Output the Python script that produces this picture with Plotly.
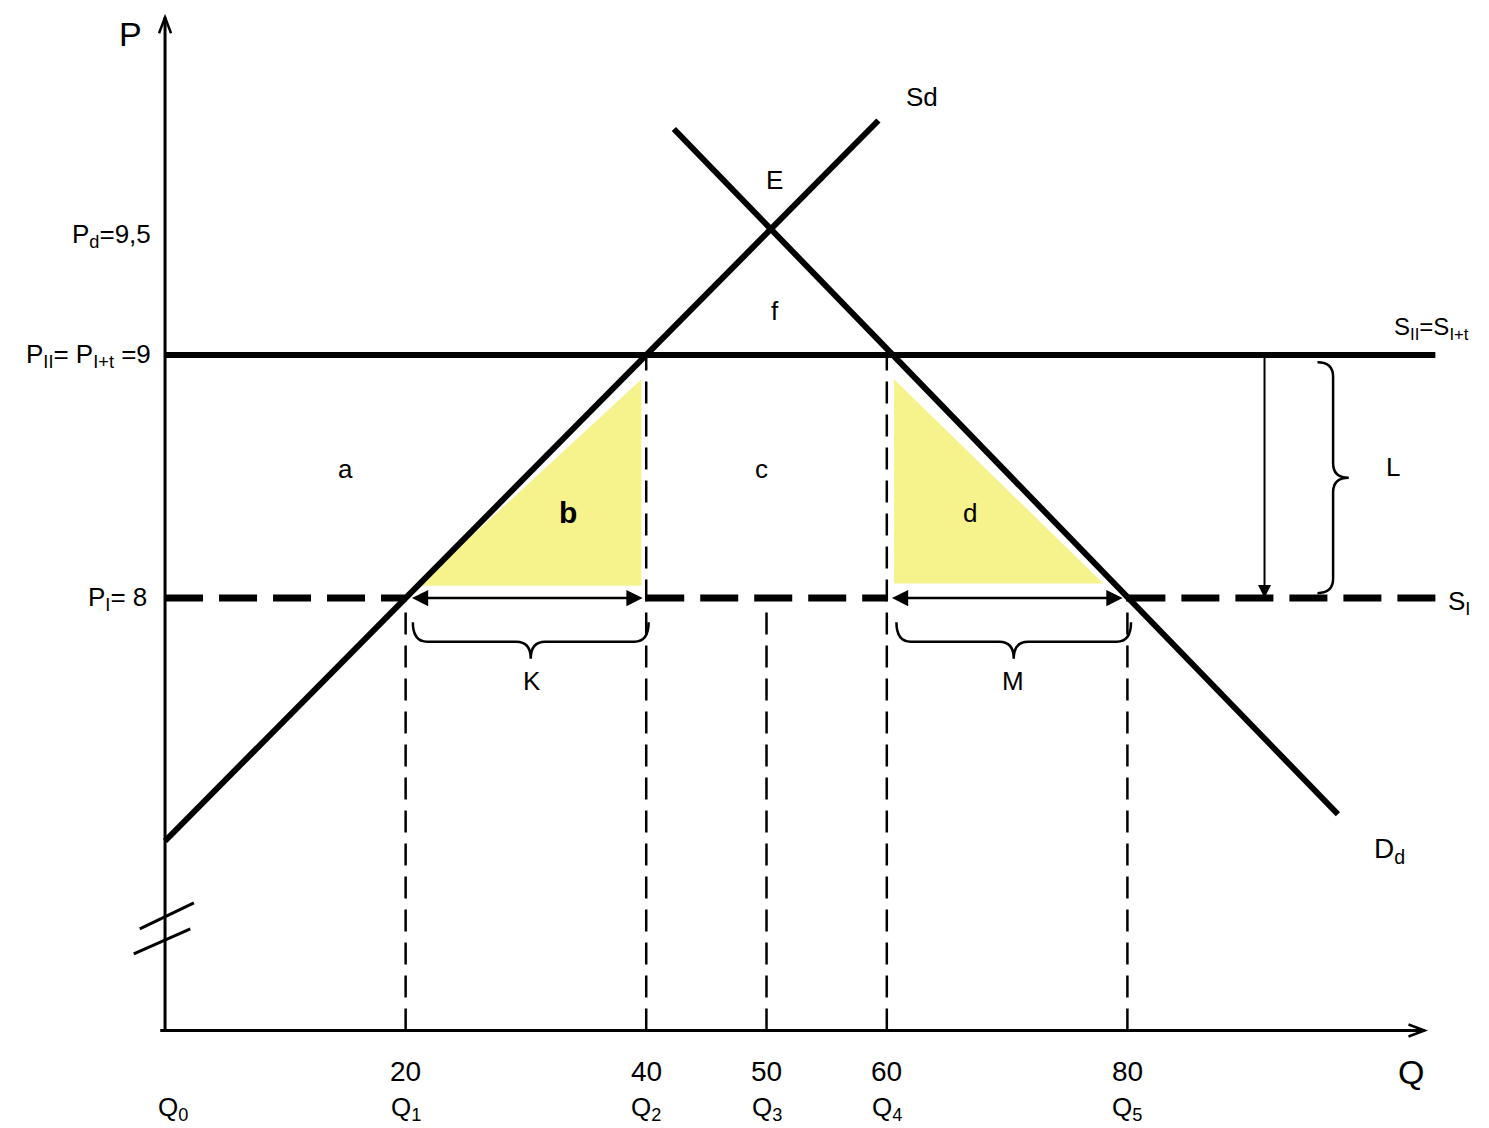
import plotly.graph_objects as go

# --- values ---
q_marks = [20, 40, 50, 60, 80]
q_tick_text = ["20", "40", "50", "60", "80"]
q_names = ["Q<sub>1</sub>", "Q<sub>2</sub>", "Q<sub>3</sub>", "Q<sub>4</sub>", "Q<sub>5</sub>"]

p_world = 8.0        # P_I
p_tariff = 9.0       # P_II = P_I+t
p_domestic = 9.5     # P_d
p_axis = 6.22        # where the (broken) price axis meets Q

supply_q = [0.0, 59.3]
supply_p = [7.0, 9.965]
demand_q = [42.3, 97.5]
demand_p = [9.93, 7.11]

tri_b_q = [21.0, 39.6, 39.6]
tri_b_p = [8.05, 8.05, 8.9]
tri_d_q = [60.6, 60.6, 78.0]
tri_d_p = [8.9, 8.06, 8.06]

# vertical guide lines: (Q, top P)
guide_q = [20, 40, 50, 60, 80]
guide_top = [8.0, 9.0, 7.95, 9.0, 8.0]

q_end = 104.7
p_top = 10.39
line_end = 105.6
dashed_end = 106.0
shift_q = 91.4

BLACK = "#000000"
YELLOW = "#f6f38c"
FONT = "Liberation Sans, Arial, sans-serif"

fig = go.Figure()

# shaded triangles b and d
for tq, tp in [(tri_b_q, tri_b_p), (tri_d_q, tri_d_p)]:
    fig.add_trace(go.Scatter(x=tq, y=tp, fill="toself", fillcolor=YELLOW,
                             mode="none", hoverinfo="skip"))

# supply and demand
fig.add_trace(go.Scatter(x=supply_q, y=supply_p, mode="lines",
                         line=dict(color=BLACK, width=6)))
fig.add_trace(go.Scatter(x=demand_q, y=demand_p, mode="lines",
                         line=dict(color=BLACK, width=6)))

# world price with tariff (solid)
fig.add_trace(go.Scatter(x=[0, line_end], y=[p_tariff, p_tariff], mode="lines",
                         line=dict(color=BLACK, width=6)))

# world price without tariff (thick dashed, broken where the arrows are)
for q0, q1 in [(0, 20), (40, 60), (80, dashed_end)]:
    fig.add_trace(go.Scatter(x=[q0, q1], y=[p_world, p_world], mode="lines",
                             line=dict(color=BLACK, width=7, dash="38px,16px")))

# thin vertical dashed guides
for q, top in zip(guide_q, guide_top):
    fig.add_trace(go.Scatter(x=[q, q], y=[p_axis, top], mode="lines",
                             line=dict(color=BLACK, width=2.5, dash="22px,11px")))

shapes = []
# axes
shapes.append(dict(type="line", x0=0, y0=p_axis, x1=0, y1=p_top,
                   line=dict(color=BLACK, width=3)))
shapes.append(dict(type="line", x0=-0.4, y0=p_axis, x1=q_end, y1=p_axis,
                   line=dict(color=BLACK, width=3)))
# open arrowheads on the axes
shapes.append(dict(type="path", xref="x", yref="y", xsizemode="pixel", ysizemode="pixel",
                   xanchor=0, yanchor=p_top, path="M -6,-16 L 0,0 L 6,-16",
                   line=dict(color=BLACK, width=2.5)))
shapes.append(dict(type="path", xref="x", yref="y", xsizemode="pixel", ysizemode="pixel",
                   xanchor=q_end, yanchor=p_axis, path="M -16,6 L 0,0 L -16,-6",
                   line=dict(color=BLACK, width=2.5)))
# axis break marks
shapes.append(dict(type="line", x0=-2.1, y0=6.638, x1=2.4, y1=6.745,
                   line=dict(color=BLACK, width=3)))
shapes.append(dict(type="line", x0=-2.6, y0=6.535, x1=2.1, y1=6.638,
                   line=dict(color=BLACK, width=3)))


def brace_h(x1, x2, y0, y1, y2, r):
    xm = (x1 + x2) / 2
    return (f"M {x1},{y0} Q {x1},{y1} {x1 + r},{y1} L {xm - r},{y1} "
            f"Q {xm},{y1} {xm},{y2} Q {xm},{y1} {xm + r},{y1} "
            f"L {x2 - r},{y1} Q {x2},{y1} {x2},{y0}")


def brace_v(y1, y2, x0, x1, x2, r):
    ym = (y1 + y2) / 2
    return (f"M {x0},{y1} Q {x1},{y1} {x1},{y1 - r} L {x1},{ym + r} "
            f"Q {x1},{ym} {x2},{ym} Q {x1},{ym} {x1},{ym - r} "
            f"L {x1},{y2 + r} Q {x1},{y2} {x0},{y2}")


shapes.append(dict(type="path", path=brace_h(20.6, 40.2, 7.90, 7.82, 7.75, 1.2),
                   line=dict(color=BLACK, width=2.5)))
shapes.append(dict(type="path", path=brace_h(60.8, 80.3, 7.90, 7.82, 7.75, 1.2),
                   line=dict(color=BLACK, width=2.5)))
shapes.append(dict(type="path", path=brace_v(8.97, 8.02, 95.8, 97.1, 98.4, 0.06),
                   line=dict(color=BLACK, width=2.5)))

fig.update_layout(shapes=shapes)

# arrows K, M and the tariff arrow
arrow_kw = dict(xref="x", yref="y", axref="x", ayref="y", text="", showarrow=True,
                arrowcolor=BLACK)
fig.add_annotation(x=39.7, y=p_world, ax=20.4, ay=p_world, arrowside="end+start",
                   arrowhead=2, arrowsize=1.3, arrowwidth=2.5, **arrow_kw)
fig.add_annotation(x=79.6, y=p_world, ax=60.3, ay=p_world, arrowside="end+start",
                   arrowhead=2, arrowsize=1.3, arrowwidth=2.5, **arrow_kw)
fig.add_annotation(x=shift_q, y=p_world, ax=shift_q, ay=p_tariff,
                   arrowhead=2, arrowsize=1.3, arrowwidth=2, **arrow_kw)


def label(x, y, text, size=26, xanchor="center", bold=False):
    if bold:
        text = f"<b>{text}</b>"
    fig.add_annotation(x=x, y=y, text=text, showarrow=False, xanchor=xanchor,
                       yanchor="middle", font=dict(family=FONT, size=size, color=BLACK))


label(-2.9, 10.32, "P", size=34)
label(-1.0, 9.49, "P<sub>d</sub>=9,5", xanchor="right")
label(-1.0, 9.0, "P<sub>II</sub>= P<sub>I+t</sub> =9", xanchor="right")
label(-1.3, 8.0, "P<sub>I</sub>= 8", xanchor="right")
label(62.9, 10.06, "Sd")
label(50.7, 9.72, "E")
label(50.7, 9.18, "f")
label(105.3, 9.11, "S<sub>II</sub>=S<sub>I+t</sub>", size=24)
label(15.0, 8.53, "a")
label(33.5, 8.35, "b", size=30, bold=True)
label(49.6, 8.53, "c")
label(66.9, 8.35, "d")
label(102.1, 8.54, "L")
label(107.6, 7.98, "S<sub>I</sub>")
label(30.5, 7.66, "K")
label(70.5, 7.66, "M")
label(101.8, 6.96, "D<sub>d</sub>", size=28)
label(103.6, 6.05, "Q", size=34)
label(0.7, 5.9, "Q<sub>0</sub>")
for q, t, n in zip(q_marks, q_tick_text, q_names):
    label(q, 6.05, t, size=28)
    label(q, 5.9, n)

fig.update_layout(
    width=1489, height=1128,
    margin=dict(l=0, r=0, t=0, b=0),
    paper_bgcolor="white", plot_bgcolor="white",
    showlegend=False,
    # ranges offset so that the 8px page margin is compensated
    xaxis=dict(range=[-13.055, 110.725], visible=False, fixedrange=True),
    yaxis=dict(range=[5.786, 10.428], visible=False, fixedrange=True),
)

fig.write_html("out.html")
